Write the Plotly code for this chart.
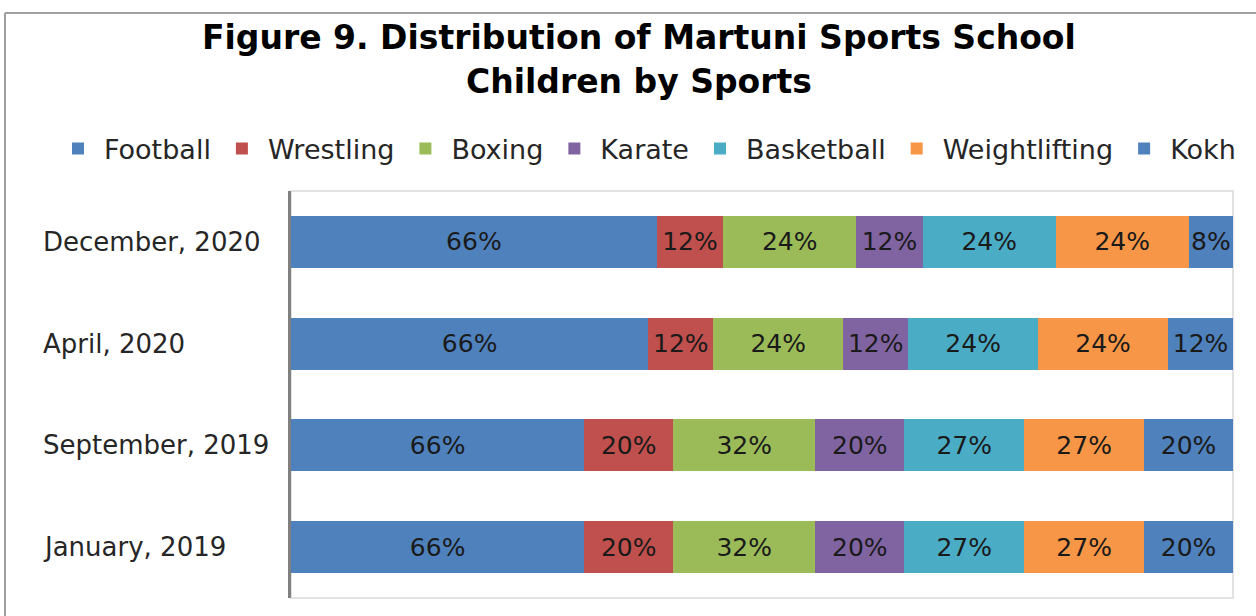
import plotly.graph_objects as go

periods = ["January, 2019", "September, 2019", "April, 2020", "December, 2020"]
sports = ["Football", "Wrestling", "Boxing", "Karate", "Basketball", "Weightlifting", "Kokh"]
football = [66, 66, 66, 66]
wrestling = [20, 20, 12, 12]
boxing = [32, 32, 24, 24]
karate = [20, 20, 12, 12]
basketball = [27, 27, 24, 24]
weightlifting = [27, 27, 24, 24]
kokh = [20, 20, 12, 8]
series = [football, wrestling, boxing, karate, basketball, weightlifting, kokh]
colors = ["#4F81BD", "#C0504D", "#9BBB59", "#8064A2", "#4BACC6", "#F79646", "#4F81BD"]

W, H = 1256, 616
L, T = 291, 191
R = W - 1233
B = H - 598
pw, ph = W - L - R, H - T - B

def px(x):
    return (x - L) / pw

def py(y):
    return (H - B - y) / ph

FONT = "DejaVu Sans"
fig = go.Figure()
for name, vals, col in zip(sports, series, colors):
    fig.add_trace(go.Bar(
        y=periods, x=vals, name=name, orientation="h",
        marker=dict(color=col, line=dict(width=0)),
        text=[f"{v}%" for v in vals], texttemplate="%{text}",
        textposition="inside", insidetextanchor="middle", textangle=0,
        constraintext="none",
        textfont=dict(family=FONT, size=25, color="#1a1a1a"),
        hoverinfo="skip",
    ))

annotations = [
    dict(text="<b>Figure 9. Distribution of Martuni Sports School</b>", x=px(639), y=py(37),
         xref="paper", yref="paper", xanchor="center", yanchor="middle", showarrow=False,
         font=dict(family=FONT, size=33, color="#000000")),
    dict(text="<b>Children by Sports</b>", x=px(639), y=py(82),
         xref="paper", yref="paper", xanchor="center", yanchor="middle", showarrow=False,
         font=dict(family=FONT, size=33, color="#000000")),
]
for p in periods:
    annotations.append(dict(text=p, x=px(41), y=p, xref="paper", yref="y",
                            xanchor="left", yanchor="middle", showarrow=False,
                            font=dict(family=FONT, size=26, color="#262626")))

shapes = [
    dict(type="rect", xref="paper", yref="paper", x0=0, x1=1, y0=0, y1=1,
         line=dict(color="#D9D9D9", width=1.5), layer="below"),
    dict(type="line", xref="paper", yref="paper", x0=px(5), x1=px(5), y0=py(13), y1=-0.2,
         line=dict(color="#A0A0A0", width=2)),
    dict(type="line", xref="paper", yref="paper", x0=px(5), x1=1.2, y0=py(13), y1=py(13),
         line=dict(color="#A0A0A0", width=2)),
]

fig.update_layout(
    width=W, height=H,
    margin=dict(l=L, r=R, t=T, b=B),
    barmode="stack", barnorm="percent", bargap=0.49,
    paper_bgcolor="white", plot_bgcolor="white",
    showlegend=True,
    legend=dict(orientation="h", x=px(52), y=py(149), xanchor="left", yanchor="middle",
                traceorder="normal", itemwidth=42,
                font=dict(family=FONT, size=27, color="#262626"),
                itemclick=False, itemdoubleclick=False),
    xaxis=dict(range=[0, 100], visible=False, fixedrange=True),
    yaxis=dict(categoryorder="array", categoryarray=periods, showticklabels=False,
               showline=True, linecolor="#808080", linewidth=2.5, ticks="",
               showgrid=False, zeroline=False, fixedrange=True),
    annotations=annotations, shapes=shapes,
)
fig.write_html("out.html", config={"displayModeBar": False},
               post_script="document.body.style.margin='0px';")
